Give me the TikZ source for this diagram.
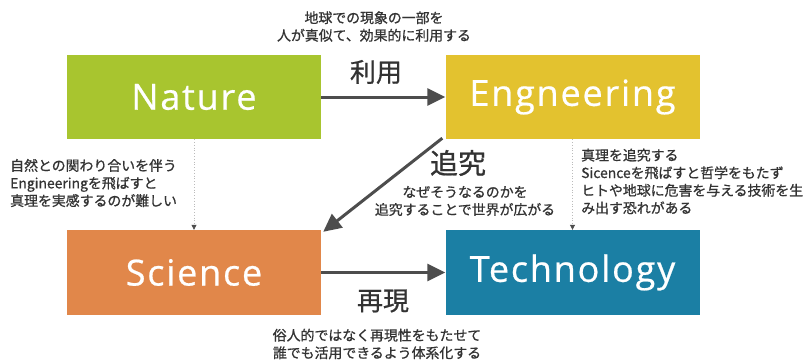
\documentclass[tikz,border=0pt]{standalone}
\usepackage{fontspec}
\setmainfont{Open Sans}
\newfontfamily\jp[FakeBold=0.8]{Noto Sans CJK JP}
\newfontfamily\boxfont[LetterSpace=5,FakeBold=0.6]{Open Sans}
\usetikzlibrary{arrows.meta}
\definecolor{natc}{HTML}{A8C52F}
\definecolor{engc}{HTML}{E3C22F}
\definecolor{scic}{HTML}{E1874A}
\definecolor{tecc}{HTML}{1B7FA4}
\definecolor{arrc}{HTML}{4D4D4D}
\definecolor{txtc}{HTML}{333333}
\definecolor{dotc}{HTML}{BBBBBB}
\tikzset{
  bigbox/.style={minimum width=254pt, minimum height=84pt, inner sep=0pt, text=white,
     font=\boxfont\fontsize{36}{40}\selectfont},
  bigarrow/.style={draw=arrc, line width=3pt, -{Triangle[length=18pt,width=17pt]}},
  dotarrow/.style={draw=dotc, line width=0.8pt, dotted, -{Triangle[length=5pt,width=5pt,fill=arrc,color=arrc]}},
  smalltxt/.style={text=txtc, inner sep=0pt, font=\jp\fontsize{13.9}{17.6}\selectfont},
  bigtxt/.style={text=txtc, inner sep=0pt, font=\jp\fontsize{26}{30}\selectfont}
}
\begin{document}
\begin{tikzpicture}[x=1pt,y=-1pt]
\fill[white] (0,0) rectangle (811,359);
\useasboundingbox (0,0) rectangle (811,359);
\node[bigbox, fill=natc] (nat) at (194,97) {Nature};
\node[bigbox, fill=engc] (eng) at (572.5,97) {Engneering};
\node[bigbox, fill=scic, minimum height=85pt] (sci) at (194,272.5) {Science};
\node[bigbox, fill=tecc, minimum height=85pt] (tec) at (572.5,272.5) {Technology};
\draw[bigarrow] (nat.east) -- (eng.west);
\draw[bigarrow] (sci.east) -- (tec.west);
\coordinate (dstart) at ([xshift=-3pt,yshift=1pt]eng.south west);
\coordinate (dend) at ([xshift=2pt,yshift=-2pt]sci.north east);
\draw[bigarrow] (dstart) -- (dend);
\draw[dotarrow] (nat.south) -- (sci.north);
\draw[dotarrow] (eng.south) -- (tec.north);
\node[bigtxt] (l1) at (376,72) {利用};
\node[bigtxt] (l2) at (383,301) {再現};
\node[bigtxt, font=\jp\fontsize{28}{32}\selectfont] (l3) at (458,163) {追究};
\node[smalltxt, align=center] (t1) at (374,26.5) {地球での現象の一部を\\人が真似て、効果的に利用する};
\node[smalltxt, align=left, anchor=west] (t2) at (10,183) {自然との関わり合いを伴う\\Engineeringを飛ばすと\\真理を実感するのが難しい};
\node[smalltxt, align=left, anchor=west] (t3) at (581,181.5) {真理を追究する\\Sicenceを飛ばすと哲学をもたず\\ヒトや地球に危害を与える技術を生\\み出す恐れがある};
\node[smalltxt, align=center] (t4) at (465,201) {なぜそうなるのかを\\追究することで世界が広がる};
\node[smalltxt, align=center] (t5) at (377,344) {俗人的ではなく再現性をもたせて\\誰でも活用できるよう体系化する};
\end{tikzpicture}
\end{document}
